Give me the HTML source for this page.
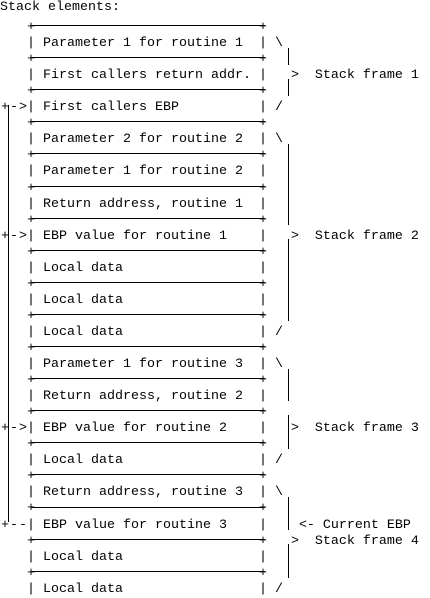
<!DOCTYPE html>
<html><head><meta charset="utf-8"><style>
html,body{margin:0;padding:0;background:#fff;width:430px;height:598px;overflow:hidden;position:relative}
pre{margin:0;position:absolute;font-family:"Liberation Mono",monospace;font-size:13.33px;line-height:16.05px;color:#000}
.h{position:absolute;height:1px;background:#000}
.v{position:absolute;width:1px;background:#000}
</style></head><body>
<pre style="left:0;top:0">Stack elements:</pre>
<pre style="left:27px;top:4px">

+                            +
| Parameter 1 for routine 1  | \
+                            +
| First callers return addr. |   >  Stack frame 1
+                            +
| First callers EBP          | /
+                            +
| Parameter 2 for routine 2  | \
+                            +
| Parameter 1 for routine 2  |
+                            +
| Return address, routine 1  |
+                            +
| EBP value for routine 1    |   >  Stack frame 2
+                            +
| Local data                 |
+                            +
| Local data                 |
+                            +
| Local data                 | /
+                            +
| Parameter 1 for routine 3  | \
+                            +
| Return address, routine 2  |
+                            +
| EBP value for routine 2    |   >  Stack frame 3
+                            +
| Local data                 | /
+                            +
| Return address, routine 3  | \
+                            +
| EBP value for routine 3    |    <- Current EBP
+                            +   >  Stack frame 4
| Local data                 |
+                            +
| Local data                 | /</pre>
<pre style="left:1px;top:100.3px;letter-spacing:1px">+-&gt;</pre>
<pre style="left:1px;top:228.7px;letter-spacing:1px">+-&gt;</pre>
<pre style="left:1px;top:421.3px;letter-spacing:1px">+-&gt;</pre>
<pre style="left:1px;top:517.6px;letter-spacing:1px">+--</pre>
<div class="v" style="left:8px;top:105px;height:417px"></div>
<div class="h" style="left:31px;width:234px;top:25px"></div>
<div class="h" style="left:31px;width:234px;top:57px"></div>
<div class="h" style="left:31px;width:234px;top:89px"></div>
<div class="h" style="left:31px;width:234px;top:121px"></div>
<div class="h" style="left:31px;width:234px;top:153px"></div>
<div class="h" style="left:31px;width:234px;top:186px"></div>
<div class="h" style="left:31px;width:234px;top:218px"></div>
<div class="h" style="left:31px;width:234px;top:250px"></div>
<div class="h" style="left:31px;width:234px;top:282px"></div>
<div class="h" style="left:31px;width:234px;top:314px"></div>
<div class="h" style="left:31px;width:234px;top:346px"></div>
<div class="h" style="left:31px;width:234px;top:378px"></div>
<div class="h" style="left:31px;width:234px;top:410px"></div>
<div class="h" style="left:31px;width:234px;top:442px"></div>
<div class="h" style="left:31px;width:234px;top:474px"></div>
<div class="h" style="left:31px;width:234px;top:507px"></div>
<div class="h" style="left:31px;width:234px;top:539px"></div>
<div class="h" style="left:31px;width:234px;top:571px"></div>
<div class="v" style="left:288px;top:48px;height:17px"></div>
<div class="v" style="left:288px;top:79px;height:17px"></div>
<div class="v" style="left:288px;top:144px;height:81px"></div>
<div class="v" style="left:288px;top:239px;height:82px"></div>
<div class="v" style="left:288px;top:369px;height:32px"></div>
<div class="v" style="left:288px;top:415px;height:34px"></div>
<div class="v" style="left:288px;top:497px;height:33px"></div>
<div class="v" style="left:288px;top:544px;height:34px"></div>
</body></html>
